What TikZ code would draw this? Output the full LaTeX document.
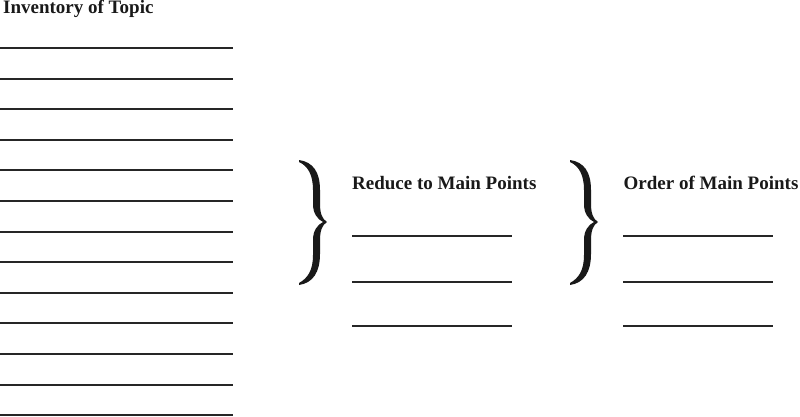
\documentclass[tikz,border=0pt]{standalone}
\usepackage{fontspec}
\setmainfont{Liberation Serif}
\begin{document}
\begin{tikzpicture}[x=1pt,y=-1pt,
  heading/.style={font=\fontsize{19}{22}\selectfont\bfseries, anchor=base west, inner sep=0pt, text=black!90},
  blank/.style={line width=1.9pt, draw=black!85},
  bracefill/.style={fill=black!90, draw=none},
  curly/.pic={
    \path[bracefill] (0,0) .. controls (14,2) and (21,12) .. (21,30) -- (21,44)
      .. controls (21,53) and (23,59) .. (28,62)
      .. controls (23,65) and (21,71) .. (21,80) -- (21,94)
      .. controls (21,112) and (14,123) .. (0,125)
      -- (0,123)
      .. controls (9,118) and (14,110) .. (14,95) -- (14,80)
      .. controls (14,71) and (18,65) .. (24,62)
      .. controls (18,59) and (14,53) .. (14,44) -- (14,30)
      .. controls (14,15) and (9,6) .. (0,2) -- cycle;
  }]
\useasboundingbox (0,0) rectangle (800,416);
\node[heading] (inv) at (3,13.5) {Inventory of Topic};
\foreach \i in {0,...,12}{
  \draw[blank] (0,{48+\i*30.6}) -- (233,{48+\i*30.6});
}
\pic at (299,160) {curly};
\node[heading] (reduce) at (352,189) {Reduce to Main Points};
\foreach \y in {236,282,326}{
  \draw[blank] (352,\y) -- (512,\y);
}
\pic at (570,160) {curly};
\node[heading] (order) at (623.5,189) {Order of Main Points};
\foreach \y in {236,282,326}{
  \draw[blank] (623,\y) -- (773,\y);
}
\end{tikzpicture}
\end{document}
